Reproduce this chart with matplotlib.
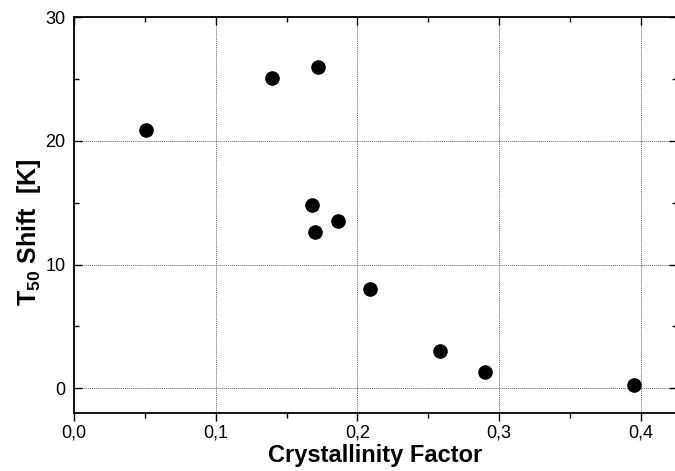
import numpy as np
import matplotlib
matplotlib.use("Agg")
import matplotlib.pyplot as plt
from matplotlib.ticker import MultipleLocator

plt.rcParams['font.family'] = ['Liberation Sans', 'DejaVu Sans']
plt.rcParams['mathtext.fontset'] = 'custom'
plt.rcParams['mathtext.bf'] = 'Liberation Sans:bold'

# crystallinity factor vs T50 shift
crystallinity = [0.051, 0.140, 0.172, 0.168, 0.186, 0.170, 0.209, 0.258, 0.290, 0.395]
t50_shift = [20.9, 25.1, 26.0, 14.8, 13.5, 12.6, 8.0, 3.0, 1.3, 0.3]

xticks = [0.0, 0.1, 0.2, 0.3, 0.4]
xtick_labels = ['0,0', '0,1', '0,2', '0,3', '0,4']
yticks = [0, 10, 20, 30]

fig = plt.figure(figsize=(6.75, 4.71), dpi=100)
ax = fig.add_axes([74 / 675, 1 - 413 / 471, 603 / 675, 396 / 471])

ax.plot(crystallinity, t50_shift, 'o', color='black', markersize=9.5, zorder=3)

ax.set_xlim(0, 0.4254)
ax.set_ylim(-2, 30)
ax.set_xticks(xticks)
ax.set_xticklabels(xtick_labels)
ax.set_yticks(yticks)
ax.xaxis.set_minor_locator(MultipleLocator(0.05))
ax.yaxis.set_minor_locator(MultipleLocator(5))

ax.grid(True, which='major', linestyle=(0, (1, 1)), color='#666666', linewidth=0.7)

ax.tick_params(axis='x', which='both', direction='out', top=True, labelsize=13, pad=2)
ax.tick_params(axis='y', which='both', direction='in', right=True, labelsize=13, pad=6)
ax.tick_params(which='major', length=6, width=1)
ax.tick_params(which='minor', length=3.5, width=1)
for t in ax.xaxis.get_major_ticks() + ax.xaxis.get_minor_ticks():
    t.tick2line.set_marker(3)  # top ticks point inward

for s in ax.spines.values():
    s.set_linewidth(1.3)

ax.set_xlabel('Crystallinity Factor', fontsize=17, fontweight='bold')
ax.xaxis.set_label_coords(0.499, -0.078)
ax.set_ylabel(r'T$_{\mathbf{50}}$ Shift  [K]', fontsize=18, fontweight='bold')
ax.yaxis.set_label_coords(-0.052, 0.457)

fig.savefig('out.png', dpi=100)
